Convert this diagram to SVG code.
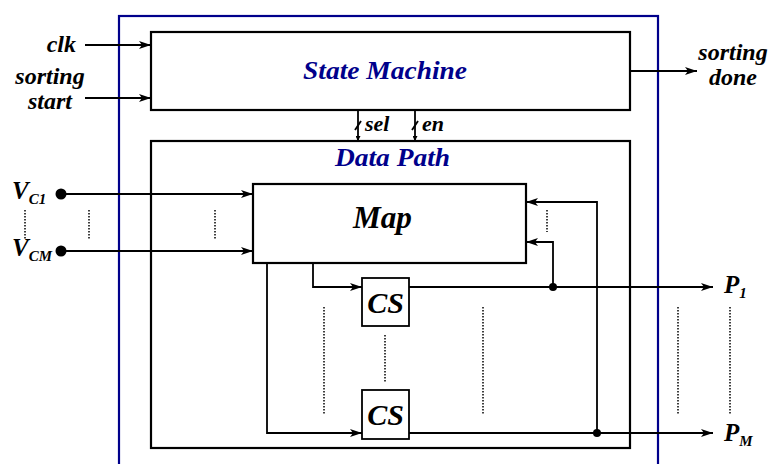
<svg xmlns="http://www.w3.org/2000/svg" width="771" height="464" viewBox="0 0 771 464">
<style>
.t{font-family:"Liberation Serif",serif;font-weight:bold;font-style:italic;fill:#000}
.b{fill:#00008b}
.box{fill:#fff;stroke:#000;stroke-width:2.2}
.ln{fill:none;stroke:#000;stroke-width:1.8}
.dot{fill:none;stroke:#000;stroke-width:1.5;stroke-dasharray:1.5 1.5}
</style>
<defs>
<marker id="ah" viewBox="0 0 12 8" refX="12" refY="4" markerWidth="12" markerHeight="8" markerUnits="userSpaceOnUse" orient="auto">
<path d="M0,0 L12,4 L0,8 L3,4 Z" fill="#000"/>
</marker>
<marker id="sa" viewBox="0 0 6 6" refX="6" refY="3" markerWidth="5" markerHeight="5" markerUnits="userSpaceOnUse" orient="auto">
<path d="M0,0 L6,3 L0,6 Z" fill="#000"/>
</marker>
</defs>
<rect x="0" y="0" width="771" height="464" fill="#fff"/>
<rect id="outer" x="119" y="16" width="539" height="460" fill="none" stroke="#00008b" stroke-width="2.2"/>
<g id="state-machine">
<rect class="box" x="151" y="32" width="479" height="78"/>
<text class="t b" x="303" y="79" font-size="26" textLength="164" lengthAdjust="spacingAndGlyphs">State Machine</text>
</g>
<g id="data-path">
<rect class="box" x="151" y="141" width="479" height="307" style="fill:none"/>
<text class="t b" x="335" y="166" font-size="25" textLength="115" lengthAdjust="spacingAndGlyphs">Data Path</text>
</g>
<g id="map">
<rect class="box" x="253" y="184" width="273" height="79"/>
<text class="t" x="353" y="228" font-size="31" textLength="59" lengthAdjust="spacingAndGlyphs">Map</text>
</g>
<g id="cs1">
<rect class="box" x="362" y="278" width="47" height="48" style="stroke-width:1.8"/>
<text class="t" x="385.5" y="313" font-size="30" text-anchor="middle">CS</text>
</g>
<g id="cs2">
<rect class="box" x="362" y="390" width="47" height="49" style="stroke-width:1.8"/>
<text class="t" x="385.5" y="425" font-size="30" text-anchor="middle">CS</text>
</g>
<g id="labels">
<text class="t" x="76" y="52" font-size="24" text-anchor="end">clk</text>
<text class="t" x="50" y="84" font-size="24" text-anchor="middle">sorting</text>
<text class="t" x="50" y="109" font-size="24" text-anchor="middle">start</text>
<text class="t" x="733" y="60" font-size="24" text-anchor="middle">sorting</text>
<text class="t" x="733" y="85" font-size="24" text-anchor="middle">done</text>
<text class="t" x="365" y="131" font-size="22">sel</text>
<text class="t" x="422" y="131" font-size="22">en</text>
<text class="t" x="12" y="199" font-size="25">V<tspan font-size="15" dy="5">C1</tspan></text>
<text class="t" x="12" y="256" font-size="25">V<tspan font-size="15" dy="5">CM</tspan></text>
<text class="t" x="724" y="293" font-size="25">P<tspan font-size="15" dy="5">1</tspan></text>
<text class="t" x="724" y="441" font-size="25">P<tspan font-size="15" dy="5">M</tspan></text>
</g>
<g id="connectors">
<line class="ln" x1="85" y1="45" x2="151" y2="45" marker-end="url(#ah)"/>
<line class="ln" x1="85" y1="98" x2="151" y2="98" marker-end="url(#ah)"/>
<line class="ln" x1="630" y1="71" x2="697" y2="71" marker-end="url(#ah)"/>
<line class="ln" x1="358" y1="110" x2="358" y2="141" stroke-width="1" marker-end="url(#sa)"/>
<line class="ln" x1="415" y1="110" x2="415" y2="141" stroke-width="1" marker-end="url(#sa)"/>
<line class="ln" x1="355" y1="130" x2="361" y2="121" stroke-width="1"/>
<line class="ln" x1="412" y1="130" x2="418" y2="121" stroke-width="1"/>
<circle cx="61" cy="194" r="5.5" fill="#000"/>
<circle cx="61" cy="251" r="5.5" fill="#000"/>
<line class="ln" x1="61" y1="194" x2="253" y2="194" marker-end="url(#ah)"/>
<line class="ln" x1="61" y1="251" x2="253" y2="251" marker-end="url(#ah)"/>
<polyline class="ln" points="313,263 313,287 362,287" marker-end="url(#ah)"/>
<polyline class="ln" points="267,263 267,433 362,433" marker-end="url(#ah)"/>
<line class="ln" x1="409" y1="287" x2="713" y2="287" marker-end="url(#ah)"/>
<line class="ln" x1="409" y1="433" x2="713" y2="433" marker-end="url(#ah)"/>
<polyline class="ln" points="553,287 553,242 526,242" marker-end="url(#ah)"/>
<polyline class="ln" points="597,433 597,202 526,202" marker-end="url(#ah)"/>
<circle cx="553" cy="287" r="4" fill="#000"/>
<circle cx="597" cy="433" r="4" fill="#000"/>
<line class="dot" x1="25" y1="210" x2="25" y2="240"/>
<line class="dot" x1="89" y1="210" x2="89" y2="240"/>
<line class="dot" x1="215" y1="210" x2="215" y2="240"/>
<line class="dot" x1="547" y1="210" x2="547" y2="232"/>
<line class="dot" x1="385" y1="335" x2="385" y2="382"/>
<line class="dot" x1="324" y1="307" x2="324" y2="414"/>
<line class="dot" x1="483" y1="307" x2="483" y2="414"/>
<line class="dot" x1="678" y1="307" x2="678" y2="414"/>
<line class="dot" x1="730" y1="307" x2="730" y2="414"/>
</g>
</svg>
